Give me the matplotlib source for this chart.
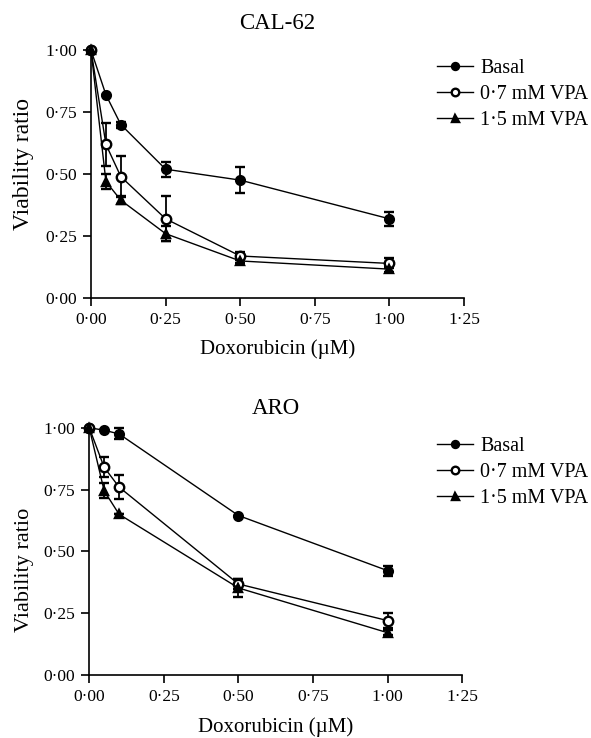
import matplotlib
matplotlib.use("Agg")
import matplotlib.pyplot as plt
from matplotlib.ticker import FuncFormatter

plt.rcParams['font.family'] = ['Liberation Serif', 'DejaVu Serif']

dose = [0.0, 0.05, 0.1, 0.25, 0.5, 1.0]
dose_aro = [0.0, 0.05, 0.1, 0.5, 1.0]
labels = ['Basal', '0·7 mM VPA', '1·5 mM VPA']

# CAL-62
cal_basal = [1.0, 0.82, 0.70, 0.52, 0.476, 0.32]
cal_basal_err = [0.0, 0.0, 0.012, 0.03, 0.053, 0.028]
cal_vpa07 = [1.0, 0.62, 0.49, 0.32, 0.17, 0.14]
cal_vpa07_err = [0.0, 0.087, 0.083, 0.09, 0.015, 0.02]
cal_vpa15 = [1.0, 0.47, 0.395, 0.26, 0.15, 0.117]
cal_vpa15_err = [0.0, 0.03, 0.015, 0.03, 0.01, 0.012]

# ARO
aro_basal = [1.0, 0.99, 0.975, 0.645, 0.422]
aro_basal_err = [0.0, 0.0, 0.022, 0.0, 0.02]
aro_vpa07 = [1.0, 0.84, 0.76, 0.368, 0.22]
aro_vpa07_err = [0.0, 0.04, 0.05, 0.02, 0.03]
aro_vpa15 = [1.0, 0.745, 0.65, 0.352, 0.171]
aro_vpa15_err = [0.0, 0.03, 0.0, 0.035, 0.01]

styles = [dict(marker='o', mfc='black', ms=6.3),
          dict(marker='o', mfc='white', ms=6.8),
          dict(marker='^', mfc='black', ms=6.3)]

dot_fmt = FuncFormatter(lambda v, p: ('%.2f' % v).replace('.', '·'))

fig = plt.figure(figsize=(5.91, 7.38), dpi=100)
ax1 = fig.add_axes([0.154, 0.596, 0.631, 0.336])
ax2 = fig.add_axes([0.151, 0.0854, 0.631, 0.335])


def draw(ax, x, series, errs, title, title_pad, leg_y, ylab_size, ylab_pos, xlab_y):
    for y, e, st, lab in zip(series, errs, styles, labels):
        ax.errorbar(x, y, yerr=e, color='black', lw=1.0, elinewidth=1.3,
                    capsize=3.8, capthick=1.3, marker=st['marker'],
                    mfc=st['mfc'], mec='black', mew=1.7, ms=st['ms'],
                    label=lab, clip_on=False, zorder=3)
    ax.set_xlim(0, 1.25)
    ax.set_ylim(0, 1.0)
    ax.set_xticks([0, 0.25, 0.5, 0.75, 1.0, 1.25])
    ax.set_yticks([0, 0.25, 0.5, 0.75, 1.0])
    ax.xaxis.set_major_formatter(dot_fmt)
    ax.yaxis.set_major_formatter(dot_fmt)
    ax.spines['top'].set_visible(False)
    ax.spines['right'].set_visible(False)
    for s in ['left', 'bottom']:
        ax.spines[s].set_linewidth(1.2)
    ax.tick_params(direction='out', length=6, width=1.2, labelsize=12.5, pad=4)
    ax.set_xlabel('Doxorubicin (µM)', fontsize=15)
    ax.xaxis.set_label_coords(0.5, xlab_y)
    ax.xaxis.label.set_va('center')
    ax.set_ylabel('Viability ratio', fontsize=ylab_size)
    ax.yaxis.set_label_coords(ylab_pos[0], ylab_pos[1])
    ax.yaxis.label.set_va('center')
    ax.set_title(title, fontsize=16.5, pad=title_pad)
    handles, labs = ax.get_legend_handles_labels()
    handles = [h[0] for h in handles]
    ax.legend(handles, labs, loc='upper left', bbox_to_anchor=(0.709, leg_y),
              bbox_transform=fig.transFigure, frameon=False, fontsize=14.5,
              handlelength=1.8, handletextpad=0.35, labelspacing=0.35,
              markerscale=0.8)


draw(ax1, dose, [cal_basal, cal_vpa07, cal_vpa15],
     [cal_basal_err, cal_vpa07_err, cal_vpa15_err], 'CAL-62', 15, 0.945,
     17, (-0.18, 0.54), -0.206)
draw(ax2, dose_aro, [aro_basal, aro_vpa07, aro_vpa15],
     [aro_basal_err, aro_vpa07_err, aro_vpa15_err], 'ARO', 10, 0.433,
     16, (-0.174, 0.425), -0.212)

fig.savefig('out.png', dpi=100)
